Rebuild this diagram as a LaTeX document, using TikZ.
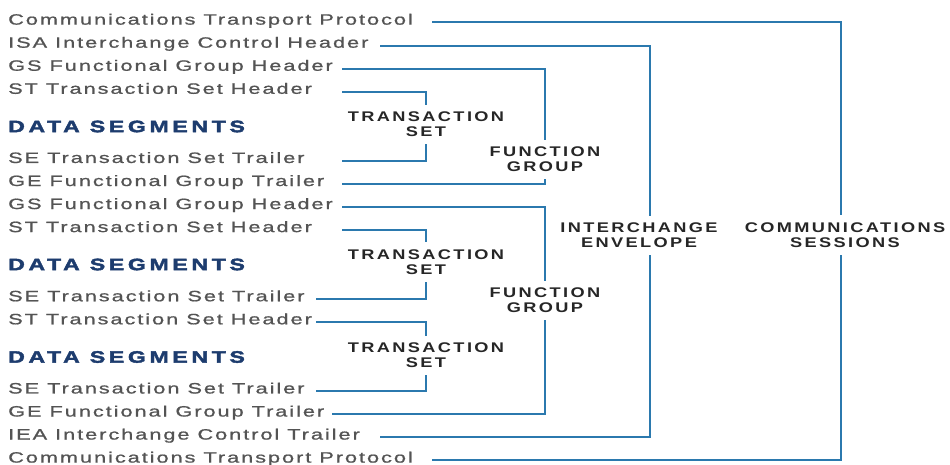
\documentclass[tikz,border=0pt]{standalone}
\usepackage{fontspec}
\usepackage{tikz}
\usetikzlibrary{positioning}

\newfontfamily\rowfont[FakeStretch=1.45, LetterSpace=13, FakeBold=1]{Liberation Sans}
\newfontfamily\lblfont[FakeStretch=1.3, LetterSpace=17]{Liberation Sans}
\newfontfamily\segfont[FakeStretch=1.4, LetterSpace=22, FakeBold=2.5]{Liberation Sans Bold}

\definecolor{rowgray}{HTML}{545454}
\definecolor{lblgray}{HTML}{262626}
\definecolor{linkblue}{HTML}{2B79AE}
\definecolor{segnavy}{HTML}{1D3C6E}

\tikzset{
    row/.style={anchor=mid west, inner sep=0pt, text=rowgray, font=\rowfont\fontsize{15}{17}\selectfont},
    seg/.style={anchor=west, inner sep=0pt, text=segnavy, font=\segfont\fontsize{16.5}{18}\selectfont},
    grp/.style={align=center, inner xsep=0pt, inner ysep=7pt, text=lblgray, font=\lblfont\bfseries\fontsize{14}{15}\selectfont},
    link/.style={draw=linkblue, line width=2pt}
}

\begin{document}
\begin{tikzpicture}[x=1pt, y=-1pt]
    \useasboundingbox (0,0) rectangle (950,465);

        % Segment rows
        \foreach \r/\name/\txt in {0/ctpA/Communications Transport Protocol, 1/isa/ISA Interchange Control Header,
            2/gsA/GS Functional Group Header, 3/stA/ST Transaction Set Header, 6/seA/SE Transaction Set Trailer,
            7/geA/GE Functional Group Trailer, 8/gsB/GS Functional Group Header, 9/stB/ST Transaction Set Header,
            12/seB/SE Transaction Set Trailer, 13/stC/ST Transaction Set Header, 16/seC/SE Transaction Set Trailer,
            17/geB/GE Functional Group Trailer, 18/iea/IEA Interchange Control Trailer, 19/ctpB/Communications Transport Protocol} {
    \node[row] (\name) at (8, {22.5+23.05*\r}) {\txt};
}

        % Data segments
        \foreach \y/\name in {126.5/dsA, 264.5/dsB, 357/dsC} {
    \node[seg] (\name) at (8,\y) {DATA SEGMENTS};
}

        % Group labels
        \node[grp] (tsA) at (426,124.5) {TRANSACTION\\SET};
        \node[grp] (tsB) at (426,262) {TRANSACTION\\SET};
        \node[grp] (tsC) at (426,355.5) {TRANSACTION\\SET};
        \node[grp] (fgA) at (545,159.5) {FUNCTION\\GROUP};
        \node[grp] (fgB) at (545,300.5) {FUNCTION\\GROUP};
        \node[grp] (ie) at (639,235.5) {INTERCHANGE\\ENVELOPE};
        \node[grp] (cs) at (845,235) {COMMUNICATIONS\\SESSIONS};

        % Columns where the brackets start
        \coordinate (colA) at (342,0);
        \coordinate (colB) at (316,0);
        \coordinate (colC) at (332,0);
        \coordinate (colD) at (380,0);
        \coordinate (colE) at (432,0);
        \coordinate (ieX) at (650,0);
        \coordinate (csX) at (841,0);

        % Transaction sets
        \draw[link] (stA.mid east -| colA) -| (tsA.north);
        \draw[link] (seA.mid east -| colA) -| (tsA.south);
        \draw[link] (stB.mid east -| colA) -| (tsB.north);
        \draw[link] (seB.mid east -| colB) -| (tsB.south);
        \draw[link] (stC.mid east -| colB) -| (tsC.north);
        \draw[link] (seC.mid east -| colB) -| (tsC.south);

        % Function groups
        \draw[link] (gsA.mid east -| colA) -| (fgA.north);
        \draw[link] (geA.mid east -| colA) -| (fgA.south);
        \draw[link] (gsB.mid east -| colA) -| (fgB.north);
        \draw[link] (geB.mid east -| colC) -| (fgB.south);

        % Interchange envelope
        \draw[link] (isa.mid east -| colD) -| (ie.north -| ieX);
        \draw[link] (iea.mid east -| colD) -| (ie.south -| ieX);

        % Communications sessions
        \draw[link] (ctpA.mid east -| colE) -| (cs.north -| csX);
        \draw[link] (ctpB.mid east -| colE) -| (cs.south -| csX);
    \end{tikzpicture}
\end{document}
